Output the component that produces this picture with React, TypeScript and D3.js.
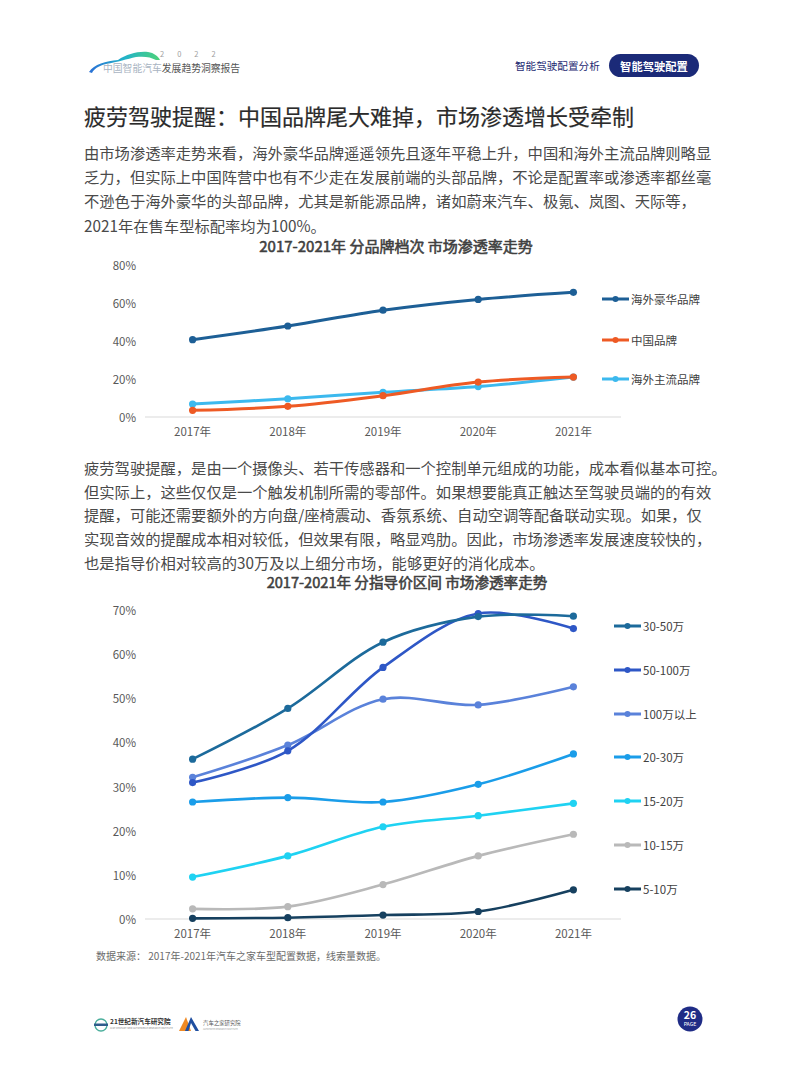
import React from 'react';
import * as d3 from 'd3';

// ---------- data ----------
const years = ['2017年', '2018年', '2019年', '2020年', '2021年'];

const brandNames = ['海外豪华品牌', '中国品牌', '海外主流品牌'];
const luxuryValues = [40.7, 47.9, 56.2, 61.9, 65.6];
const chineseValues = [3.5, 5.6, 11.2, 18.4, 21.0];
const mainstreamValues = [6.8, 9.6, 13.0, 16.0, 21.0];
const brandColors = ['#1D5F96', '#EE5A24', '#3CB9EE'];
const brandTicks = [0, 20, 40, 60, 80];

const priceNames = ['30-50万', '50-100万', '100万以上', '20-30万', '15-20万', '10-15万', '5-10万'];
const p30to50 = [36.2, 47.7, 62.7, 68.5, 68.6];
const p50to100 = [30.9, 38.1, 57.0, 69.2, 65.8];
const p100plus = [32.1, 39.4, 49.8, 48.5, 52.6];
const p20to30 = [26.5, 27.5, 26.5, 30.5, 37.4];
const p15to20 = [9.5, 14.3, 20.9, 23.4, 26.2];
const p10to15 = [2.3, 2.8, 7.8, 14.3, 19.2];
const p5to10 = [0.15, 0.3, 0.9, 1.7, 6.6];
const priceColors = ['#1C6A9B', '#2E57C6', '#5A82DA', '#1A9DE9', '#1FD2F2', '#B9B9B9', '#16405F'];
const priceTicks = [0, 10, 20, 30, 40, 50, 60, 70];

const para1 = [
  '由市场渗透率走势来看，海外豪华品牌遥遥领先且逐年平稳上升，中国和海外主流品牌则略显',
  '乏力，但实际上中国阵营中也有不少走在发展前端的头部品牌，不论是配置率或渗透率都丝毫',
  '不逊色于海外豪华的头部品牌，尤其是新能源品牌，诸如蔚来汽车、极氪、岚图、天际等，',
  '2021年在售车型标配率均为100%。',
];
const para2 = [
  '疲劳驾驶提醒，是由一个摄像头、若干传感器和一个控制单元组成的功能，成本看似基本可控。',
  '但实际上，这些仅仅是一个触发机制所需的零部件。如果想要能真正触达至驾驶员端的的有效',
  '提醒，可能还需要额外的方向盘/座椅震动、香氛系统、自动空调等配备联动实现。如果，仅',
  '实现音效的提醒成本相对较低，但效果有限，略显鸡肋。因此，市场渗透率发展速度较快的，',
  '也是指导价相对较高的30万及以上细分市场，能够更好的消化成本。',
];

const FONT = '"Noto Sans CJK SC", "Noto Sans", sans-serif';

type Series = { name: string; values: number[]; color: string };

function LineChart(props: {
  series: Series[];
  ticks: number[];
  yMax: number;
  top: number;
  bottom: number;
  tickFmt: (v: number) => string;
  legendX: number;
  legendYs: number[];
  strokeW: number;
  r: number;
}) {
  const { series, ticks, yMax, top, bottom, tickFmt, legendX, legendYs, strokeW, r } = props;
  const x = d3.scaleBand<string>().domain(years).range([145, 621]);
  const y = d3.scaleLinear().domain([0, yMax]).range([bottom, top]);
  const cx = (d: string) => (x(d) as number) + x.bandwidth() / 2;
  const line = d3
    .line<number>()
    .x((_, i) => cx(years[i]))
    .y((v) => y(v))
    .curve(d3.curveCatmullRom.alpha(0.5));
  return (
    <g>
      {ticks.map((t) => (
        <text key={t} x={136} y={y(t)} textAnchor="end" dominantBaseline="central" fontSize={11.5} fill="#595959" fontFamily={FONT}>
          {tickFmt(t)}
        </text>
      ))}
      <line x1={145} x2={621} y1={y(0)} y2={y(0)} stroke="#D9D9D9" strokeWidth={1} />
      {years.map((yr) => (
        <text key={yr} x={cx(yr)} y={y(0) + 14} textAnchor="middle" dominantBaseline="central" fontSize={11.5} fill="#595959" fontFamily={FONT}>
          {yr}
        </text>
      ))}
      {series
        .slice()
        .reverse()
        .map((s) => (
          <g key={s.name}>
            <path d={line(s.values) || ''} fill="none" stroke={s.color} strokeWidth={strokeW} strokeLinejoin="round" strokeLinecap="round" />
            {s.values.map((v, i) => (
              <circle key={i} cx={cx(years[i])} cy={y(v)} r={r} fill={s.color} />
            ))}
          </g>
        ))}
      {series.map((s, i) => (
        <g key={s.name} transform={`translate(${legendX},${legendYs[i]})`}>
          <line x1={0} x2={27} y1={0} y2={0} stroke={s.color} strokeWidth={3} />
          <circle cx={13.5} cy={0} r={3} fill={s.color} />
          <text x={29} y={0} dominantBaseline="central" fontSize={11.5} fill="#404040" fontFamily={FONT}>
            {s.name}
          </text>
        </g>
      ))}
    </g>
  );
}

export default function App() {
  const brandSeries: Series[] = [
    { name: brandNames[0], values: luxuryValues, color: brandColors[0] },
    { name: brandNames[1], values: chineseValues, color: brandColors[1] },
    { name: brandNames[2], values: mainstreamValues, color: brandColors[2] },
  ];
  const priceValues = [p30to50, p50to100, p100plus, p20to30, p15to20, p10to15, p5to10];
  const priceSeries: Series[] = priceNames.map((n, i) => ({ name: n, values: priceValues[i], color: priceColors[i] }));

  return (
    <svg width={793} height={1077} style={{ position: 'absolute', left: 0, top: 0, background: '#fff' }} fontFamily={FONT}>
      <defs>
        <linearGradient id="swoosh" x1="0" x2="1" y1="0" y2="0">
          <stop offset="0" stopColor="#2A6FD6" />
          <stop offset="0.5" stopColor="#22B3C9" />
          <stop offset="1" stopColor="#4CD27A" />
        </linearGradient>
      </defs>
      {/* header logo */}
      <path d="M89,72 C94,64 106,61 118,60 C127,54 138,51 148,52 C154,53 158,56 160,60 L156,60 C151,57 144,56 136,57 C127,59 118,62 106,64 C98,66 94,69 92,73 Z" fill="url(#swoosh)" />
      <text x={160} y={57} fontSize={7.5} fill="#A0A0A0" letterSpacing={13} fontFamily={FONT}>2022</text>
      <text x={103} y={72} fontSize={9.8} fill="#A9B4C2" fontFamily={FONT}>中国智能汽车</text>
      <text x={161.8} y={72} fontSize={9.8} fill="#555" fontFamily={FONT}>发展趋势洞察报告</text>
      {/* header right */}
      <text x={515} y={70} fontSize={10.6} fill="#1E2A72" fontFamily={FONT}>智能驾驶配置分析</text>
      <rect x={609} y={54} width={90} height={23} rx={11.5} fill="#1B2A78" />
      <text x={654} y={66} textAnchor="middle" dominantBaseline="central" fontSize={11.3} fontWeight="bold" fill="#fff" fontFamily={FONT}>智能驾驶配置</text>

      {/* title */}
      <text x={84} y={115} dominantBaseline="central" fontSize={22} fill="#2B2B2B" stroke="#2B2B2B" strokeWidth={0.2} fontFamily={FONT}>
        疲劳驾驶提醒：中国品牌尾大难掉，市场渗透增长受牵制
      </text>
      {para1.map((t, i) => (
        <text key={i} x={84} y={152 + i * 24.2} dominantBaseline="central" fontSize={15.3} fill="#4A4A4A" fontFamily={FONT}>{t}</text>
      ))}

      {/* chart 1 */}
      <text x={396} y={245} textAnchor="middle" dominantBaseline="central" fontSize={15} fill="#404040" stroke="#404040" strokeWidth={0.55} fontFamily={FONT}>
        2017-2021年 分品牌档次 市场渗透率走势
      </text>
      <LineChart series={brandSeries} ticks={brandTicks} yMax={80} top={265} bottom={417} tickFmt={(v) => `${v}%`} legendX={602} legendYs={[299, 340, 379]} strokeW={3} r={3.6} />

      {para2.map((t, i) => (
        <text key={i} x={84} y={467 + i * 23.7} dominantBaseline="central" fontSize={15.3} fill="#4A4A4A" fontFamily={FONT}>{t}</text>
      ))}

      {/* chart 2 */}
      <text x={407} y={581.5} textAnchor="middle" dominantBaseline="central" fontSize={14.6} fill="#404040" stroke="#404040" strokeWidth={0.55} fontFamily={FONT}>
        2017-2021年 分指导价区间 市场渗透率走势
      </text>
      <LineChart series={priceSeries} ticks={priceTicks} yMax={70} top={610} bottom={919} tickFmt={(v) => `${v}%`} legendX={614} legendYs={[626, 670, 714, 757, 801, 845, 889]} strokeW={2.6} r={3.6} />

      <text x={96} y={955} dominantBaseline="central" fontSize={10} fill="#6B6B6B" fontFamily={FONT}>
        数据来源： 2017年-2021年汽车之家车型配置数据，线索量数据。
      </text>

      {/* footer logos */}
      <circle cx={101} cy={1025} r={6} fill="none" stroke="#4AAE9B" strokeWidth={1.3} />
      <rect x={94} y={1023.5} width={14} height={2.5} fill="#2F5E8C" />
      <text x={110} y={1024} fontSize={6.6} fontWeight="bold" fill="#333" fontFamily={FONT}>21世纪新汽车研究院</text>
      <text x={110} y={1029} fontSize={2.4} fill="#888" fontFamily={FONT}>21ST CENTURY NEW AUTOMOBILE RESEARCH INSTITUTE</text>
      <path d="M179,1031 L186,1017 L191,1031 Z" fill="#F08A24" />
      <path d="M185,1031 L191,1017 L199,1031 L195.5,1031 L191,1023 L188.5,1031 Z" fill="#1F4FA0" />
      <text x={203} y={1025} fontSize={5.4} fill="#555" fontFamily={FONT}>汽车之家研究院</text>
      <text x={203} y={1029.5} fontSize={2.2} fill="#999" fontFamily={FONT}>AUTOHOME RESEARCH INSTITUTE</text>
      <circle cx={690} cy={1019} r={12.5} fill="#1F2C86" />
      <text x={690} y={1019} textAnchor="middle" fontSize={10.5} fontWeight="bold" fill="#fff" fontFamily={FONT}>26</text>
      <text x={690} y={1026} textAnchor="middle" fontSize={5.2} fill="#fff" fontFamily={FONT}>PAGE</text>
    </svg>
  );
}
